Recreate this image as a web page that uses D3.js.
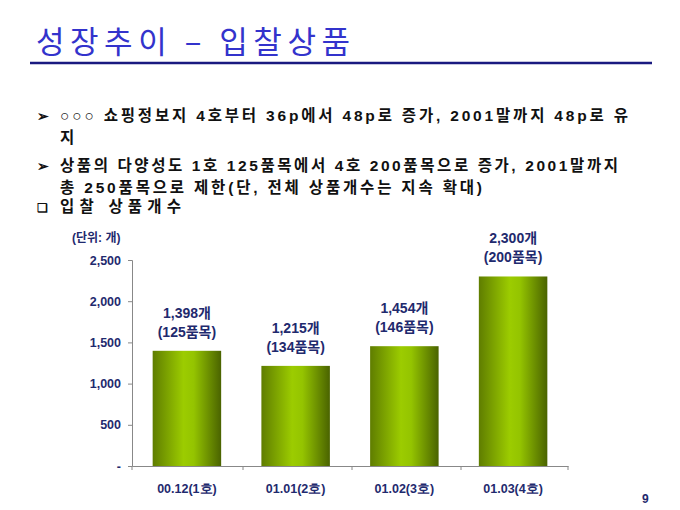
<!DOCTYPE html>
<html><head><meta charset="utf-8">
<script src="https://cdn.jsdelivr.net/npm/d3@7"></script>
<style>body{margin:0;background:#fff}svg{font-family:"Liberation Sans","Noto Sans CJK KR",sans-serif}</style>
</head><body><svg id="c" width="680" height="510"></svg>
<script>
var categories = ["00.12(1호)", "01.01(2호)", "01.02(3호)", "01.03(4호)"];
var counts = [1398, 1215, 1454, 2300];
var countLabels = ["1,398개", "1,215개", "1,454개", "2,300개"];
var itemLabels = ["(125품목)", "(134품목)", "(146품목)", "(200품목)"];
var yTicks = [0, 500, 1000, 1500, 2000, 2500];

var svg = d3.select("#c");
var navy = "#1f2a6e";

// title
svg.append("text").attr("x", 36).attr("y", 53).attr("font-size", 31)
  .attr("fill", "#3333cc").attr("font-family", "Noto Sans CJK KR")
  .attr("textLength", 314).attr("lengthAdjust", "spacing").text("성장추이 – 입찰상품");
svg.append("line").attr("x1", 30).attr("x2", 652).attr("y1", 63).attr("y2", 63)
  .attr("stroke", "#1a1a80").attr("stroke-width", 2.5);

// bullets
var body = [
  {x: 37, y: 121, t: "➢", s: 14},
  {x: 60, y: 121, t: "○○○ 쇼핑정보지 4호부터 36p에서 48p로 증가, 2001말까지 48p로 유", w: 568},
  {x: 60, y: 143, t: "지"},
  {x: 37, y: 171, t: "➢", s: 14},
  {x: 60, y: 171, t: "상품의 다양성도 1호 125품목에서 4호 200품목으로 증가, 2001말까지", w: 558},
  {x: 60, y: 193, t: "총 250품목으로 제한(단, 전체 상품개수는 지속 확대)", w: 422},
  {x: 37, y: 212, t: "❑", s: 12},
  {x: 60, y: 212, t: "입찰 상품개수", w: 121}
];
svg.selectAll("text.b").data(body).join("text").attr("class", "b")
  .attr("x", d => d.x).attr("y", d => d.y).attr("font-size", d => d.s || 15.5)
  .attr("font-weight", "bold").attr("fill", "#111")
  .each(function(d) { if (d.w) d3.select(this).attr("textLength", d.w).attr("lengthAdjust", "spacing"); })
  .text(d => d.t);

// chart
var x = d3.scaleBand().domain(categories).range([132, 568]).paddingInner(0.37).paddingOuter(0.19);
var y = d3.scaleLinear().domain([0, 2500]).range([466, 260]);

var grad = svg.append("defs").append("linearGradient").attr("id", "g");
[["0%", "#5f7d00"], ["45%", "#9ccc00"], ["60%", "#94c400"], ["100%", "#4a6300"]]
  .forEach(s => grad.append("stop").attr("offset", s[0]).attr("stop-color", s[1]));

svg.selectAll("rect.bar").data(counts).join("rect").attr("class", "bar")
  .attr("x", (d, i) => x(categories[i])).attr("width", x.bandwidth())
  .attr("y", d => y(d)).attr("height", d => y(0) - y(d)).attr("fill", "url(#g)");

var yAxis = svg.append("g").attr("transform", "translate(132,0)")
  .call(d3.axisLeft(y).tickValues(yTicks).tickSize(4).tickFormat(d => d === 0 ? "-" : d3.format(",")(d)));
var xAxis = svg.append("g").attr("transform", "translate(0,466)")
  .call(d3.axisBottom(x).tickSize(0));
xAxis.selectAll(".tick text").attr("dy", "1.9em");
// boundary ticks between categories
var bounds = [132, 243, 352, 461, 568];
xAxis.selectAll("line.bd").data(bounds).join("line").attr("class", "bd")
  .attr("x1", d => d).attr("x2", d => d).attr("y1", 0).attr("y2", 4).attr("stroke", "#888");
[yAxis, xAxis].forEach(a => {
  a.select(".domain").attr("stroke", "#888");
  a.selectAll(".tick line").attr("stroke", "#888");
  a.selectAll(".tick text").attr("font-size", 12.5).attr("font-weight", "bold").attr("fill", navy);
});
yAxis.selectAll(".tick text").attr("dx", "-4");

svg.append("text").attr("x", 72).attr("y", 242).attr("font-size", 12).attr("font-weight", "bold")
  .attr("fill", navy).text("(단위: 개)");

var lab = svg.selectAll("g.lab").data(counts).join("g").attr("class", "lab")
  .attr("transform", (d, i) => "translate(" + (x(categories[i]) + x.bandwidth() / 2) + "," + (y(d) - 33) + ")");
lab.append("text").attr("text-anchor", "middle").attr("font-size", 14).attr("font-weight", "bold")
  .attr("fill", navy).text((d, i) => countLabels[i]);
lab.append("text").attr("text-anchor", "middle").attr("y", 19).attr("font-size", 14).attr("font-weight", "bold")
  .attr("fill", navy).text((d, i) => itemLabels[i]);

svg.append("text").attr("x", 642).attr("y", 503).attr("font-size", 12).attr("font-weight", "bold")
  .attr("fill", navy).text("9");
</script></body></html>
